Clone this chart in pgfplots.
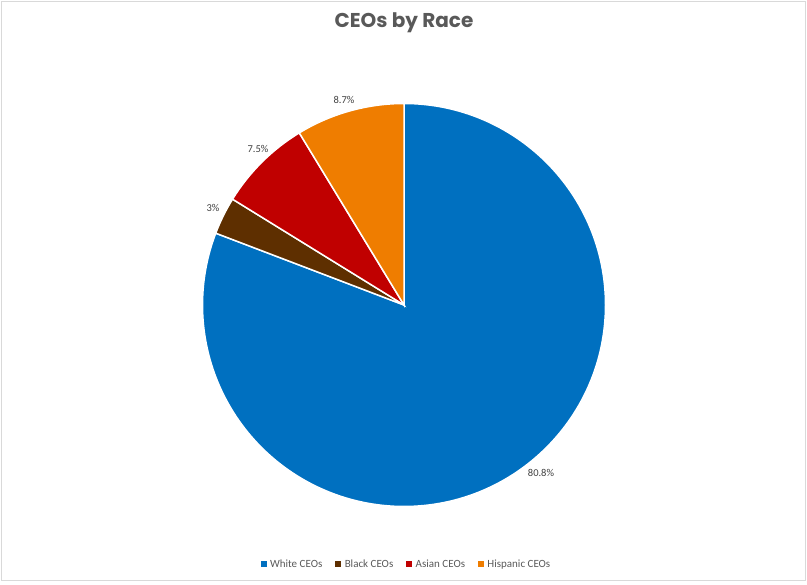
\documentclass[border=0pt]{standalone}
\usepackage{pgfplots}
\pgfplotsset{compat=1.18}
\usepackage{pgfplotstable}
\usepackage{fontspec}
\setmainfont{Carlito}
\newfontfamily\titlefont{Poppins}
\definecolor{cWhite}{HTML}{0070C0}
\definecolor{cBlack}{HTML}{5E2F00}
\definecolor{cAsian}{HTML}{C00000}
\definecolor{cHisp}{HTML}{EF7D00}
\definecolor{txtgray}{HTML}{595959}
\definecolor{lblgray}{HTML}{404040}
\definecolor{frame}{HTML}{D9D9D9}

% percentages
\pgfplotstableread{
name value
White 80.8
Black 3
Asian 7.5
Hispanic 8.7
}\piedata
\pgfplotstablegetelem{0}{value}\of\piedata \let\vW\pgfplotsretval
\pgfplotstablegetelem{1}{value}\of\piedata \let\vB\pgfplotsretval
\pgfplotstablegetelem{2}{value}\of\piedata \let\vA\pgfplotsretval
\pgfplotstablegetelem{3}{value}\of\piedata \let\vH\pgfplotsretval
\pgfmathsetmacro\aA{90}
\pgfmathsetmacro\aB{\aA-3.6*\vW}
\pgfmathsetmacro\aC{\aB-3.6*\vB}
\pgfmathsetmacro\aD{\aC-3.6*\vA}
\pgfmathsetmacro\aE{\aD-3.6*\vH}
\def\R{201.5pt}

\begin{document}
\begin{tikzpicture}
\begin{axis}[
  width=807pt, height=585pt, scale only axis,
  xmin=0, xmax=807, ymin=0, ymax=585,
  hide axis, clip=false,
  legend columns=-1,
  legend style={at={(axis cs:406.5,21)}, anchor=center, draw=none, fill=none,
    font=\fontsize{11}{13}\selectfont, text=txtgray,
    /tikz/every even column/.append style={column sep=11pt}},
  legend image code/.code={\fill[#1] (0pt,-2.5pt) rectangle (5pt,2.5pt); \path (0pt,0pt) (7pt,0pt);},
]
\path (axis cs:0,0) rectangle (axis cs:807,585);
\draw[frame, line width=1pt] (axis cs:1.5,4) rectangle (axis cs:805.5,583.5);

\addlegendimage{cWhite, fill=cWhite}
\addlegendentry{White CEOs}
\addlegendimage{cBlack, fill=cBlack}
\addlegendentry{Black CEOs}
\addlegendimage{cAsian, fill=cAsian}
\addlegendentry{Asian CEOs}
\addlegendimage{cHisp, fill=cHisp}
\addlegendentry{Hispanic CEOs}

\filldraw[fill=cWhite, draw=white, line width=1.5pt] (axis cs:404,280) -- ++(\aA:\R) arc[start angle=\aA, end angle=\aB, radius=\R] -- cycle;
\filldraw[fill=cBlack, draw=white, line width=1.5pt] (axis cs:404,280) -- ++(\aB:\R) arc[start angle=\aB, end angle=\aC, radius=\R] -- cycle;
\filldraw[fill=cAsian, draw=white, line width=1.5pt] (axis cs:404,280) -- ++(\aC:\R) arc[start angle=\aC, end angle=\aD, radius=\R] -- cycle;
\filldraw[fill=cHisp, draw=white, line width=1.5pt] (axis cs:404,280) -- ++(\aD:\R) arc[start angle=\aD, end angle=\aE, radius=\R] -- cycle;

\node[font=\fontsize{10.5}{12}\selectfont, text=lblgray] at (axis cs:541,112) {80.8\%};
\node[font=\fontsize{10.5}{12}\selectfont, text=lblgray] at (axis cs:213,377) {3\%};
\node[font=\fontsize{10.5}{12}\selectfont, text=lblgray] at (axis cs:258,436) {7.5\%};
\node[font=\fontsize{10.5}{12}\selectfont, text=lblgray] at (axis cs:344,485) {8.7\%};

\node[font=\titlefont\bfseries\fontsize{20}{23}\selectfont, text=txtgray] at (axis cs:404,562) {CEOs by Race};
\end{axis}
\end{tikzpicture}
\end{document}
